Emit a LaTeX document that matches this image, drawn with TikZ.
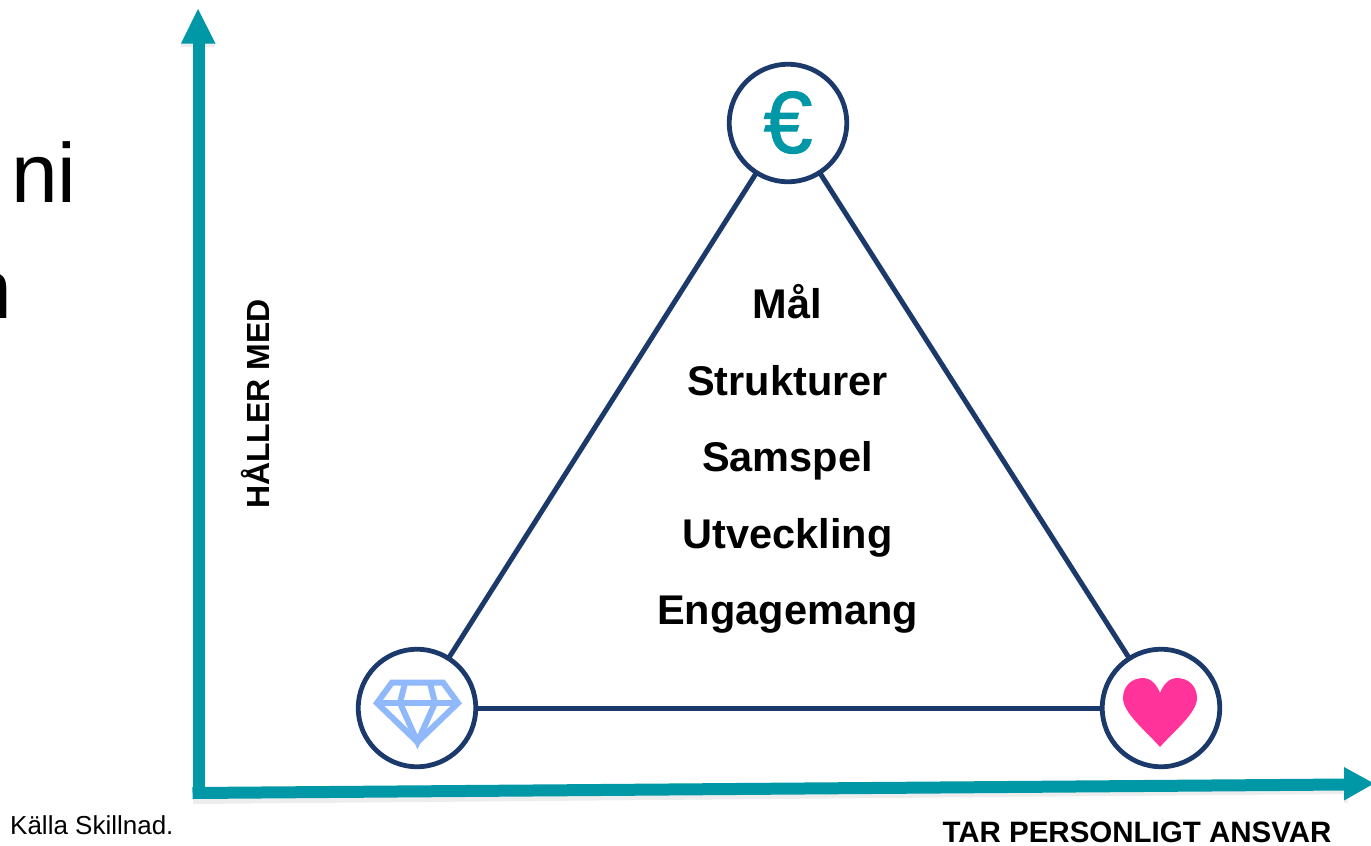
\documentclass[tikz,border=0pt]{standalone}
\usepackage{fontspec}
\setmainfont{Liberation Sans}
\newfontfamily\eurofont[RawFeature={embolden=1.2}]{Liberation Sans}
\usetikzlibrary{arrows.meta}
\definecolor{axisteal}{HTML}{0097A7}
\definecolor{navy}{HTML}{1B3A6B}
\definecolor{gemblue}{HTML}{8FB9FB}
\definecolor{heartpink}{HTML}{FF3399}
\tikzset{
  px/.style={x=1pt,y=-1pt},
  iconcircle/.style={circle,draw=navy,line width=4.8pt,fill=white,minimum size=117.5pt,inner sep=0pt,outer sep=0pt},
  edge/.style={draw=navy,line width=5pt},
  axis/.style={draw=axisteal,line width=12pt},
  tip/.style={fill=axisteal,draw=none},
  shade/.style={fill=black,opacity=.07,draw=none},
  centre/.style={font=\bfseries\fontsize{41.5}{41.5}\selectfont,text=black,inner sep=0pt},
  axislabel/.style={font=\bfseries\fontsize{#1}{#1}\selectfont,text=black,inner sep=0pt},
  big/.style={font=\fontsize{84}{84}\selectfont,text=black,inner sep=0pt},
  gem/.style={draw=gemblue,line width=6pt,line join=miter}
}
\begin{document}
\begin{tikzpicture}[px]
\useasboundingbox (0,0) rectangle (1371,846);
\clip (0,0) rectangle (1371,846);
\fill[white] (0,0) rectangle (1371,846);
% cut-off slide text
\node[big,anchor=base west] (ni) at (11,202) {ni};
\node[big,anchor=base east] (cutn) at (12,318) {n};
% soft shadows of the axes
\fill[shade] (193,798) -- (1345,788) -- (1345,794) -- (193,804) -- cycle;
\fill[shade] (181,43) -- (215,43) -- (215,47) -- (181,47) -- cycle;
\fill[shade] (1344,767) -- (1348,769) -- (1348,803) -- (1344,803) -- cycle;
% axes
\coordinate (origin) at (198.5,793);
\coordinate (ytop) at (198.5,40);
\coordinate (xend) at (1346,784.5);
\draw[axis] (ytop) -- (198.5,799);
\draw[axis] (192.5,793) -- (xend);
\fill[tip] (198,9) -- (215.5,43.5) -- (181,43.5) -- cycle;
\fill[tip] (1344,767) -- (1374,783.5) -- (1344,800.5) -- cycle;
% icons
\node[iconcircle] (euro) at (788,123) {};
\node[iconcircle] (diamond) at (417,708) {};
\node[iconcircle] (heart) at (1161,708) {};
\draw[edge] (euro) -- (diamond);
\draw[edge] (euro) -- (heart);
\draw[edge] (diamond) -- (heart);
\node[text=axisteal,font=\eurofont\fontsize{88}{88}\selectfont,inner sep=0pt] (eurosign) at (788,122.5) {€};
\draw[gem] (377,703) -- (392,682.5) -- (443,682.5) -- (458,703) -- (417.5,742) -- cycle;
\draw[gem] (377,703) -- (458,703);
\draw[gem] (405,683) -- (400,703) -- (417.5,742) -- (435,703) -- (430,683);
\fill[heartpink] (1160,747) .. controls (1146,731) and (1123,713) .. (1123,698)
  .. controls (1123,686) and (1132,678) .. (1143,678)
  .. controls (1151,678) and (1157,685) .. (1160,693)
  .. controls (1163,685) and (1169,678) .. (1177,678)
  .. controls (1188,678) and (1197,686) .. (1197,698)
  .. controls (1197,713) and (1174,731) .. (1160,747) -- cycle;
% centre list
\node[centre,anchor=base] (t1) at (787.5,318) {Mål};
\node[centre,anchor=base] (t2) at (787.5,395) {Strukturer};
\node[centre,anchor=base] (t3) at (787.5,471.5) {Samspel};
\node[centre,anchor=base] (t4) at (787.5,548) {Utveckling};
\node[centre,anchor=base] (t5) at (787.5,624.5) {Engagemang};
% axis labels
\node[axislabel=32,anchor=base,rotate=90] (yl) at (269.5,404) {HÅLLER MED};
\node[axislabel=29.5,anchor=base] (xl) at (1137,842) {TAR PERSONLIGT ANSVAR};
\node[font=\fontsize{26}{26}\selectfont,anchor=base west,inner sep=0pt] (src) at (10,834) {Källa Skillnad.};
\end{tikzpicture}
\end{document}
